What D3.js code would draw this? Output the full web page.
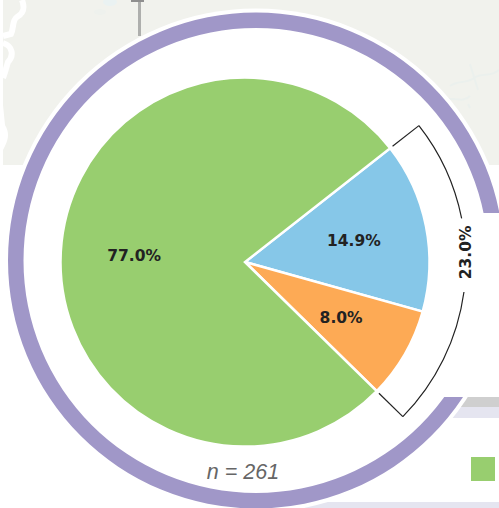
<!DOCTYPE html>
<html>
<head>
<meta charset="utf-8">
<script src="https://cdn.jsdelivr.net/npm/d3@7"></script>
<style>
html, body { margin: 0; padding: 0; background: #fff; overflow: hidden; }
svg { display: block; }
</style>
</head>
<body>
<svg id="mainSVG" width="499" height="508"></svg>
<script>
/* --------------------------- DATA --------------------------- */

let categories = ["a", "b", "c"]
let shares = [14.9, 8.0, 77.0]
let sliceColors = ["#86c7e8", "#fdaa55", "#98ce6f"]
let sliceLabels = ["14.9%", "8.0%", "77.0%"]
let bracketLabel = "23.0%"
let sampleLabel = "n = 261"

/* --------------------------- LAYOUT --------------------------- */

let svg = d3.select("#mainSVG")
let [pieX, pieY, pieR] = [245, 262, 184.5]
let [ringX, ringY, ringOuter, ringInner] = [256, 260.5, 248, 232.5]
let bracketR = 221
let labelR = 111
let startDeg = 51.9
let toRad = Math.PI / 180

/* ---- backdrop: map, white panel, bands ---- */

let back = svg.append('g')
back.append('rect').attr('x', 3).attr('y', 0).attr('width', 496).attr('height', 165).attr('fill', '#f1f2ed')

// pale water marks on the map
let water = back.append('g').attr('fill', 'none').attr('stroke', '#ebf0ed').attr('stroke-width', 2)
water.append('path').attr('d', 'M450,86 C458,80 466,84 474,78 C482,72 490,78 499,70')
water.append('path').attr('d', 'M446,100 C454,96 462,104 470,96')
water.append('path').attr('d', 'M470,64 L478,90 M468,104 L470,108')
back.append('ellipse').attr('cx', 110).attr('cy', 2).attr('rx', 7).attr('ry', 4).attr('fill', '#eaf2f2')
back.append('ellipse').attr('cx', 100).attr('cy', 12).attr('rx', 6).attr('ry', 3).attr('fill', '#eef1ed')

// white roads top left
back.append('path')
    .attr('d', 'M22,0 C25,8 24,13 17,17 C12,20 14,28 11,34 L3,36 M3,43 C13,46 14,56 8,62 L5,72 L3,78')
    .attr('fill', 'none').attr('stroke', '#fff').attr('stroke-width', 6)
back.append('path')
    .attr('d', 'M3,105 L5,125 C9,132 9,138 5,146 L3,150 Z')
    .attr('fill', '#fff')

// pin stem
back.append('rect').attr('x', 138).attr('y', 0).attr('width', 3).attr('height', 36).attr('fill', '#aeafad')
back.append('rect').attr('x', 131).attr('y', 0).attr('width', 13).attr('height', 2).attr('fill', '#8f8f8f')

back.append('rect').attr('x', 300).attr('y', 397).attr('width', 199).attr('height', 10).attr('fill', '#cfcfcf')
back.append('rect').attr('x', 300).attr('y', 407).attr('width', 199).attr('height', 11).attr('fill', '#e5e5f0')
back.append('rect').attr('x', 300).attr('y', 502).attr('width', 199).attr('height', 6).attr('fill', '#e5e5f0')

/* ---- ring ---- */

svg.append('circle').attr('cx', ringX).attr('cy', ringY).attr('r', ringOuter + 4).attr('fill', '#fff')
svg.append('path')
    .attr('transform', `translate(${ringX},${ringY})`)
    .attr('d', d3.arc().innerRadius(ringInner).outerRadius(ringOuter).startAngle(0).endAngle(2 * Math.PI)())
    .attr('fill', '#a097c8')

// panel that hides the right part of the ring
svg.append('rect').attr('x', 400).attr('y', 213).attr('width', 99).attr('height', 184).attr('fill', '#fff')

// legend swatch
svg.append('rect').attr('x', 471).attr('y', 457).attr('width', 24).attr('height', 24).attr('fill', sliceColors[2])

/* ---- pie ---- */

let pie = d3.pie().sort(null).value(d => d)
    .startAngle(startDeg * toRad)
    .endAngle((startDeg + 360) * toRad)
let arcs = pie(shares)
let arc = d3.arc().innerRadius(0).outerRadius(pieR)

let pieGroup = svg.append('g').attr('transform', `translate(${pieX},${pieY})`)
pieGroup.selectAll('path')
    .data(arcs)
    .enter()
        .append('path')
        .attr('d', arc)
        .attr('fill', (d, i) => sliceColors[i])
        .attr('stroke', '#fff')
        .attr('stroke-width', 2.5)

pieGroup.selectAll('text')
    .data(arcs)
    .enter()
        .append('text')
        .attr('transform', d => {
            let a = (d.startAngle + d.endAngle) / 2
            return `translate(${labelR * Math.sin(a)},${-labelR * Math.cos(a)})`
        })
        .attr('text-anchor', 'middle')
        .attr('dy', '0.35em')
        .attr('font-family', 'DejaVu Sans')
        .attr('font-weight', 'bold')
        .attr('font-size', 15.5)
        .attr('fill', '#222')
        .text((d, i) => sliceLabels[i])

/* ---- bracket over the two small slices ---- */

let bStart = arcs[0].startAngle
let bEnd = arcs[1].endAngle
let gapMid = 88.2 * toRad
let gap = 9.6 * toRad
let polar = (r, a) => [r * Math.sin(a), -r * Math.cos(a)]

let bracket = svg.append('g').attr('transform', `translate(${pieX},${pieY})`)
let line = d3.line()
bracket.append('path')
    .attr('d', line([polar(pieR + 3, bStart), polar(bracketR, bStart)]))
bracket.append('path')
    .attr('d', line([polar(pieR + 3, bEnd), polar(bracketR, bEnd)]))
bracket.append('path')
    .attr('d', d3.arc().innerRadius(bracketR).outerRadius(bracketR).startAngle(bStart).endAngle(gapMid - gap)())
bracket.append('path')
    .attr('d', d3.arc().innerRadius(bracketR).outerRadius(bracketR).startAngle(gapMid + gap).endAngle(bEnd)())
bracket.selectAll('path').attr('fill', 'none').attr('stroke', '#222').attr('stroke-width', 1.2)

let bl = polar(bracketR, 87.5 * toRad)
bracket.append('text')
    .attr('transform', `translate(${bl[0]},${bl[1]}) rotate(-90)`)
    .attr('text-anchor', 'middle')
    .attr('dy', '0.35em')
    .attr('font-family', 'DejaVu Sans')
    .attr('font-weight', 'bold')
    .attr('font-size', 15.5)
    .attr('fill', '#222')
    .text(bracketLabel)

/* ---- sample size ---- */

svg.append('text')
    .attr('x', 243).attr('y', 479)
    .attr('text-anchor', 'middle')
    .attr('font-family', 'Liberation Sans')
    .attr('font-style', 'italic')
    .attr('font-size', 21.5)
    .attr('fill', '#666')
    .text(sampleLabel)
</script>
</body>
</html>
